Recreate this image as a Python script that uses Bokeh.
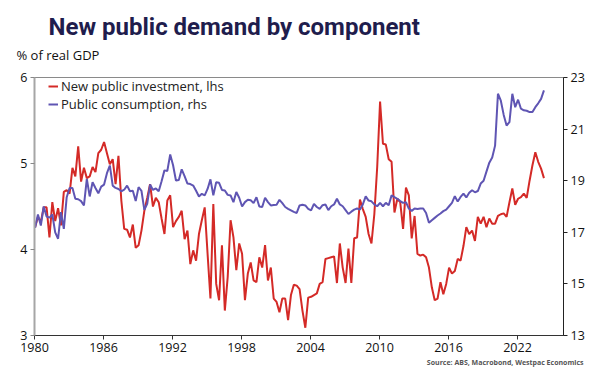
from bokeh.plotting import figure
from bokeh.models import Range1d, LinearAxis, FixedTicker, Legend, LegendItem, Title
from bokeh.embed import file_html
from bokeh.resources import INLINE

# ---------------- data (quarterly, % of real GDP) ----------------
start_year = 1980
x_ticks = [1980, 1986, 1992, 1998, 2004, 2010, 2016, 2022]
lhs_ticks = [3, 4, 5, 6]
rhs_ticks = [13, 15, 17, 19, 21, 23]

new_public_investment = [
    4.26, 4.38, 4.32, 4.49,  4.49, 4.14, 4.55, 4.33,  4.48, 4.28, 4.67, 4.69,
    4.65, 4.95, 4.85, 5.20,  4.79, 4.95, 4.83, 4.85,  4.96, 4.90, 5.12, 5.16,
    5.25, 5.12, 4.99, 5.05,  4.76, 5.09, 4.57, 4.24,  4.23, 4.14, 4.29, 4.02,
    4.05, 4.22, 4.45, 4.60,  4.76, 4.50, 4.60, 4.55,  4.36, 4.18, 4.57, 4.63,
    4.26, 4.33, 4.38, 4.45,  4.12, 4.22, 3.83, 3.99,  3.87, 4.18, 4.34, 4.49,
    3.95, 3.43, 4.53, 3.60,  3.41, 4.05, 3.29, 3.68,  4.34, 4.14, 3.76, 4.07,
    3.95, 3.41, 3.72, 3.85,  3.64, 3.62, 3.91, 3.79,  4.05, 3.64, 3.79, 3.43,
    3.39, 3.27, 3.43, 3.43,  3.18, 3.47, 3.59, 3.58,  3.54, 3.29, 3.09, 3.44,
    3.45, 3.47, 3.49, 3.60,  3.62, 3.89, 3.90, 3.91,  3.92, 3.61, 4.07, 3.79,
    3.61, 4.01, 3.61, 4.13,  4.14, 4.58, 4.47, 4.38,  4.18, 4.07, 4.41, 4.96,
    5.72, 5.23, 5.22, 5.05,  5.02, 4.43, 4.59, 4.55,  4.24, 4.72, 4.63, 4.13,
    4.39, 3.95, 3.93, 3.94,  3.91, 3.79, 3.56, 3.41,  3.43, 3.62, 3.48, 3.60,
    3.79, 3.72, 3.75, 3.89,  3.87, 4.04, 4.26, 4.18,  4.22, 4.10, 4.38, 4.30,
    4.38, 4.26, 4.36, 4.30,  4.30, 4.39, 4.41, 4.42,  4.38, 4.55, 4.71, 4.52,
    4.59, 4.61, 4.65, 4.60,  4.80, 4.98, 5.13, 5.02,  4.94, 4.83,
]

public_consumption = [
    17.17, 17.69, 17.26, 18.00,  17.61, 17.57, 17.69, 17.00,  16.75, 17.78, 17.13, 18.36,
    18.72, 18.72, 18.30, 18.28,  18.21, 18.04, 19.07, 18.39,  18.94, 18.72, 18.51, 18.77,
    18.85, 19.29, 19.59, 18.81,  18.72, 18.68, 18.59, 18.65,  18.81, 18.59, 18.61, 18.21,
    18.75, 18.61, 17.87, 18.10,  18.85, 18.64, 18.70, 18.59,  18.98, 19.40, 19.38, 20.02,
    19.60, 19.01, 19.03, 19.44,  19.18, 18.89, 18.87, 18.81,  18.61, 18.39, 18.49, 18.43,
    18.68, 19.05, 18.43, 18.94,  18.92, 18.64, 18.62, 18.45,  18.43, 18.17, 18.56, 18.34,
    18.00, 18.17, 18.26, 18.24,  18.13, 18.36, 18.00, 17.98,  18.34, 18.17, 18.04, 18.06,
    18.07, 18.26, 18.13, 17.98,  17.91, 17.85, 17.79, 17.75,  18.04, 18.07, 18.04, 17.91,
    17.85, 18.10, 17.98, 17.91,  18.05, 18.08, 17.86, 18.01,  18.08, 18.30, 18.08, 18.01,
    17.86, 17.71, 17.80, 17.88,  17.92, 17.88, 18.08, 18.39,  18.23, 18.20, 18.08, 18.01,
    18.14, 18.01, 18.14, 18.05,  18.43, 18.36, 18.30, 18.21,  18.14, 18.17, 17.92, 17.83,
    17.92, 17.90, 17.92, 17.92,  17.75, 17.37, 17.47, 17.56,  17.65, 17.73, 17.82, 17.88,
    18.01, 18.14, 18.40, 18.19,  18.37, 18.50, 18.35, 18.53,  18.63, 18.55, 18.60, 18.89,
    19.00, 19.35, 19.70, 19.90,  20.36, 22.37, 22.10, 21.55,  21.14, 21.27, 22.37, 21.85,
    22.14, 21.79, 21.73, 21.71,  21.66, 21.66, 21.85, 22.00,  22.17, 22.50,
]

dates = [start_year + 0.05 + i * 0.25 for i in range(len(new_public_investment))]

RED = "#d42a27"
PURPLE = "#5f55b3"
FONT = "Open Sans"

p = figure(width=590, height=380, output_backend="svg", toolbar_location=None, title=None,
           x_range=Range1d(1980, 2026), y_range=Range1d(3, 6),
           min_border_left=34, min_border_right=27, min_border_top=77, min_border_bottom=45,
           background_fill_color="white", border_fill_color="white")
p.extra_y_ranges = {"rhs": Range1d(13, 23)}
p.xgrid.visible = False
p.ygrid.visible = False
p.outline_line_color = "#8a8a8a"
p.outline_line_width = 1

# axes styling
xa = p.xaxis[0]
xa.ticker = FixedTicker(ticks=x_ticks)
xa.axis_line_color = "#333333"
xa.major_tick_line_color = "#333333"
xa.major_tick_out = 4
xa.major_tick_in = 0
xa.minor_tick_line_color = None
xa.major_label_standoff = 3
xa.major_label_text_font = FONT
xa.major_label_text_font_size = "12.5px"
xa.major_label_text_color = "#111111"

ya = p.yaxis[0]
ya.ticker = FixedTicker(ticks=lhs_ticks)
ya.axis_line_color = "#a6a6a6"
ya.axis_line_width = 2
ya.major_tick_line_color = "#888888"
ya.major_tick_out = 4
ya.major_tick_in = 0
ya.minor_tick_line_color = None
ya.major_label_standoff = 3
ya.major_label_text_font = FONT
ya.major_label_text_font_size = "12.5px"
ya.major_label_text_color = "#111111"

ra = LinearAxis(y_range_name="rhs", ticker=FixedTicker(ticks=rhs_ticks))
ra.axis_line_color = "#222222"
ra.major_tick_line_color = "#222222"
ra.major_tick_out = 4
ra.major_tick_in = 0
ra.minor_tick_line_color = None
ra.major_label_standoff = 3
ra.major_label_text_font = FONT
ra.major_label_text_font_size = "12.5px"
ra.major_label_text_color = "#111111"
p.add_layout(ra, "right")

r_inv = p.line(dates, new_public_investment, line_color=RED, line_width=2)
r_con = p.line(dates, public_consumption, line_color=PURPLE, line_width=2, y_range_name="rhs")

legend = Legend(items=[LegendItem(label="New public investment, lhs", renderers=[r_inv]),
                       LegendItem(label="Public consumption, rhs", renderers=[r_con])],
                location=(14, 222), orientation="vertical",
                background_fill_alpha=0, border_line_color=None,
                padding=0, margin=0, spacing=0,
                glyph_width=10, glyph_height=16, label_height=16, label_standoff=3,
                label_text_font=FONT, label_text_font_size="13px", label_text_color="#222222")
p.add_layout(legend)

# texts around the frame (first added "above" = nearest the frame)
unit_title = Title(text="% of real GDP", align="left", offset=-18, vertical_align="top",
                   standoff=23, text_font=FONT, text_font_style="normal",
                   text_font_size="13px", text_color="#111111")
p.add_layout(unit_title, "above")

main_title = Title(text="New public demand by component", align="left", offset=14,
                   vertical_align="bottom", standoff=-12,
                   text_font="Roboto", text_font_style="bold",
                   text_font_size="24px", text_color="#1f1d4d")
p.add_layout(main_title, "above")

source = Title(text="Source: ABS, Macrobond, Westpac Economics", align="right", offset=-20,
               vertical_align="top", standoff=6, text_font=FONT, text_font_style="bold",
               text_font_size="7px", text_color="#555555")
p.add_layout(source, "below")

open("out.html", "w").write(file_html(p, INLINE))
